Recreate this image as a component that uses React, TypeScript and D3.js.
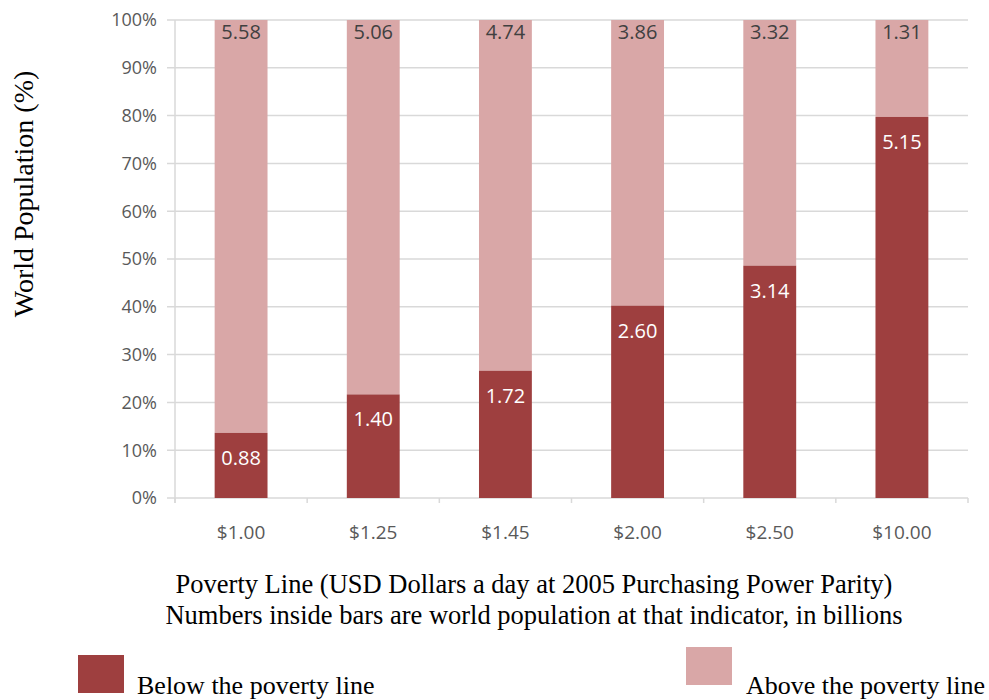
import React, { useEffect, useRef } from "react";
import * as d3 from "d3";

const categories = ["$1.00", "$1.25", "$1.45", "$2.00", "$2.50", "$10.00"];
const belowValues = [0.88, 1.4, 1.72, 2.6, 3.14, 5.15];
const aboveValues = [5.58, 5.06, 4.74, 3.86, 3.32, 1.31];
const yTicks = [0, 0.1, 0.2, 0.3, 0.4, 0.5, 0.6, 0.7, 0.8, 0.9, 1.0];
const seriesNames = ["Below the poverty line", "Above the poverty line"];
const xTitleLines = [
  "Poverty Line (USD Dollars a day at 2005 Purchasing Power Parity)",
  "Numbers inside bars are world population at that indicator, in billions",
];
const yTitle = "World Population (%)";

const DARK = "#9e3f3f";
const LIGHT = "#d9a7a7";

export default function App() {
  const ref = useRef<SVGSVGElement>(null);
  useEffect(() => {
    const svg = d3.select(ref.current);
    svg.selectAll("*").remove();
    const left = 175, right = 968, top = 20, bottom = 498;
    const x = d3.scaleBand<string>().domain(categories).range([left, right]).paddingInner(0.6).paddingOuter(0.3);
    const y = d3.scaleLinear().domain([0, 1]).range([bottom, top]);
    const axisFont = "'Open Sans', 'Liberation Sans', sans-serif";

    // gridlines
    svg.append("g").selectAll("line").data(yTicks).join("line")
      .attr("x1", left - 8).attr("x2", right)
      .attr("y1", d => y(d)).attr("y2", d => y(d))
      .attr("stroke", "#d9d9d9").attr("stroke-width", 1.5);
    // y axis line
    svg.append("line").attr("x1", left).attr("x2", left).attr("y1", top).attr("y2", bottom + 5)
      .attr("stroke", "#d9d9d9").attr("stroke-width", 1.5);
    // x ticks at band boundaries
    const step = x.step();
    const bounds = d3.range(categories.length + 1).map(i => left + i * step);
    svg.append("g").selectAll("line").data(bounds).join("line")
      .attr("x1", d => d).attr("x2", d => d).attr("y1", bottom).attr("y2", bottom + 5)
      .attr("stroke", "#d9d9d9").attr("stroke-width", 1.5);

    // y tick labels
    svg.append("g").selectAll("text").data(yTicks).join("text")
      .attr("x", 157).attr("y", d => y(d)).attr("dy", "0.35em")
      .attr("text-anchor", "end").attr("font-family", axisFont).attr("font-size", 18)
      .attr("fill", "#595959").text(d => d3.format(".0%")(d));

    // x tick labels
    svg.append("g").selectAll("text").data(categories).join("text")
      .attr("x", d => (x(d) as number) + x.bandwidth() / 2).attr("y", 532).attr("dy", "0.35em")
      .attr("text-anchor", "middle").attr("font-family", axisFont).attr("font-size", 19)
      .attr("fill", "#595959").text(d => d);

    const data = categories.map((c, i) => {
      const total = belowValues[i] + aboveValues[i];
      return { c, below: belowValues[i], above: aboveValues[i], pb: belowValues[i] / total };
    });

    const g = svg.append("g");
    g.selectAll("rect.above").data(data).join("rect")
      .attr("x", d => x(d.c) as number).attr("width", x.bandwidth())
      .attr("y", y(1)).attr("height", d => y(d.pb) - y(1)).attr("fill", LIGHT);
    g.selectAll("rect.below").data(data).join("rect")
      .attr("x", d => x(d.c) as number).attr("width", x.bandwidth())
      .attr("y", d => y(d.pb)).attr("height", d => y(0) - y(d.pb)).attr("fill", DARK);

    g.selectAll("text.above").data(data).join("text")
      .attr("x", d => (x(d.c) as number) + x.bandwidth() / 2).attr("y", y(1) + 12).attr("dy", "0.35em")
      .attr("text-anchor", "middle").attr("font-family", axisFont).attr("font-size", 20)
      .attr("fill", "#404040").text(d => d.above.toFixed(2));
    g.selectAll("text.below").data(data).join("text")
      .attr("x", d => (x(d.c) as number) + x.bandwidth() / 2).attr("y", d => y(d.pb) + 25).attr("dy", "0.35em")
      .attr("text-anchor", "middle").attr("font-family", axisFont).attr("font-size", 20)
      .attr("fill", "#ffffff").text(d => d.below.toFixed(2));

    const serif = "'Liberation Serif', 'Times New Roman', serif";
    svg.append("text").attr("transform", "translate(33,194) rotate(-90)")
      .attr("text-anchor", "middle").attr("font-family", serif).attr("font-size", 28)
      .attr("fill", "#000").text(yTitle);
    svg.append("g").selectAll("text").data(xTitleLines).join("text")
      .attr("x", 534).attr("y", (d, i) => 593 + i * 31)
      .attr("text-anchor", "middle").attr("font-family", serif).attr("font-size", 26.5)
      .attr("fill", "#000").text(d => d);

    // legend
    const legend = [
      { name: seriesNames[0], color: DARK, rx: 78, ry: 655, tx: 137 },
      { name: seriesNames[1], color: LIGHT, rx: 686, ry: 647, tx: 746 },
    ];
    const lg = svg.append("g");
    lg.selectAll("rect").data(legend).join("rect")
      .attr("x", d => d.rx).attr("y", d => d.ry).attr("width", 46).attr("height", 38).attr("fill", d => d.color);
    lg.selectAll("text").data(legend).join("text")
      .attr("x", d => d.tx).attr("y", 694).attr("font-family", serif).attr("font-size", 26)
      .attr("fill", "#000").text(d => d.name);
  }, []);
  return <svg ref={ref} width={989} height={700} style={{ position: "absolute", left: 0, top: 0, background: "#fff" }} />;
}
